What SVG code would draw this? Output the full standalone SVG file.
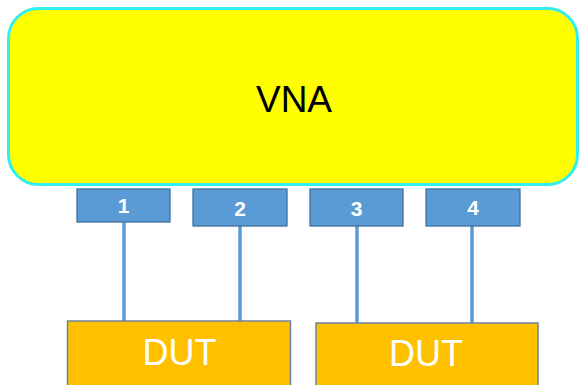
<svg xmlns="http://www.w3.org/2000/svg" width="579" height="385" viewBox="0 0 579 385">
<style>
.port{fill:#5b9bd5;stroke:#41719c;stroke-width:1.3}
.plabel{font-family:"Liberation Sans",Arial,sans-serif;font-size:21px;font-weight:bold;fill:#fff;text-anchor:middle}
.dut{fill:#ffc000;stroke:#6d83a0;stroke-width:1.5}
.dlabel{font-family:"Liberation Sans",Arial,sans-serif;font-size:36px;fill:#fff;text-anchor:middle}
.wire{stroke:#5b9bd5;stroke-width:3.5;fill:none}
</style>
<rect width="579" height="385" fill="#fff"/>
<g id="vna">
<rect x="8.5" y="8.5" width="569" height="176" rx="30" ry="30" fill="#ffff00" stroke="#33eeee" stroke-width="3"/>
<text x="294" y="112" font-family="Liberation Sans,Arial,sans-serif" font-size="37" fill="#000" text-anchor="middle">VNA</text>
</g>
<g id="connectors">
<line class="wire" x1="124" y1="222" x2="124" y2="321"/>
<line class="wire" x1="240" y1="226" x2="240" y2="323"/>
<line class="wire" x1="357" y1="226" x2="357" y2="323"/>
<line class="wire" x1="472" y1="226" x2="472" y2="323"/>
</g>
<g id="port1"><rect class="port" x="77" y="189" width="93" height="33"/><text class="plabel" x="123.5" y="213">1</text></g>
<g id="port2"><rect class="port" x="193" y="189" width="94" height="37"/><text class="plabel" x="240" y="215.5">2</text></g>
<g id="port3"><rect class="port" x="310" y="189" width="93" height="37"/><text class="plabel" x="356.5" y="215.5">3</text></g>
<g id="port4"><rect class="port" x="426" y="189" width="94" height="37"/><text class="plabel" x="473" y="215">4</text></g>
<g id="dut1"><rect class="dut" x="67.5" y="321" width="223" height="70"/><text class="dlabel" x="179.5" y="365">DUT</text></g>
<g id="dut2"><rect class="dut" x="316" y="323" width="222" height="68"/><text class="dlabel" x="426" y="366">DUT</text></g>
</svg>
